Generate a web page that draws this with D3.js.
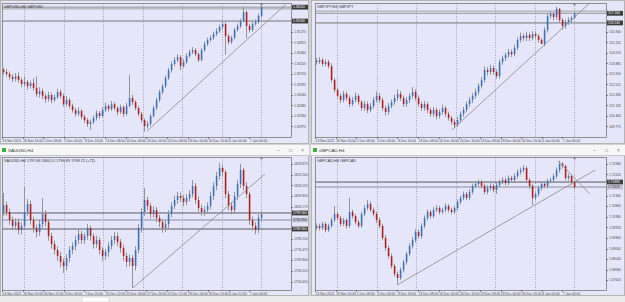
<!DOCTYPE html>
<html>
<head>
<meta charset="utf-8">
<script src="https://cdn.jsdelivr.net/npm/d3@7"></script>
<style>
  body { margin: 0; background: #d4d4d4; }
  svg { display: block; font-family: "Liberation Sans", Arial, sans-serif; }
</style>
</head>
<body>
<div id="chart"></div>
<script>
// ---- GBPUSD H4 (top left) ----
const gbpusdOpen0 = 1.3390;
const gbpusdClose = [1.3382,1.3375,1.3365,1.3358,1.3368,1.3355,1.3341,1.3348,1.3334,1.3344,
  1.3328,1.3307,1.3317,1.3301,1.3290,1.3304,1.3287,1.3297,1.3314,1.3301,
  1.3273,1.3287,1.3267,1.3253,1.3240,1.3250,1.3230,1.3219,1.3206,1.3213,
  1.3226,1.3243,1.3233,1.3253,1.3267,1.3257,1.3273,1.3260,1.3246,1.3263,
  1.3240,1.3267,1.3294,1.3280,1.3260,1.3240,1.3219,1.3199,1.3206,1.3233,
  1.3260,1.3287,1.3314,1.3334,1.3361,1.3388,1.3409,1.3422,1.3432,1.3402,
  1.3415,1.3436,1.3449,1.3456,1.3442,1.3422,1.3456,1.3476,1.3490,1.3497,
  1.3510,1.3520,1.3534,1.3544,1.3503,1.3483,1.3497,1.3524,1.3537,1.3554,
  1.3584,1.3537,1.3524,1.3544,1.3551,1.3571,1.3601];
const gbpusdHigh = [1.3395,1.3392,1.3384,1.3374,1.3378,1.3380,1.3362,1.3365,1.3355,1.3352,
  1.3360,1.3366,1.3330,1.3325,1.3310,1.3315,1.3312,1.3306,1.3325,1.3322,
  1.3308,1.3300,1.3294,1.3275,1.3260,1.3262,1.3256,1.3238,1.3226,1.3222,
  1.3235,1.3252,1.3250,1.3262,1.3278,1.3274,1.3284,1.3280,1.3266,1.3272,
  1.3268,1.3278,1.3372,1.3305,1.3286,1.3266,1.3246,1.3225,1.3215,1.3240,
  1.3268,1.3295,1.3322,1.3342,1.3370,1.3396,1.3418,1.3432,1.3442,1.3438,
  1.3425,1.3445,1.3458,1.3466,1.3462,1.3448,1.3462,1.3485,1.3498,1.3506,
  1.3518,1.3530,1.3542,1.3552,1.3550,1.3510,1.3505,1.3532,1.3545,1.3562,
  1.3601,1.3590,1.3545,1.3552,1.3560,1.3580,1.3608];
const gbpusdLow = [1.3372,1.3366,1.3356,1.3348,1.3350,1.3345,1.3330,1.3333,1.3322,1.3326,
  1.3318,1.3298,1.3295,1.3290,1.3278,1.3282,1.3276,1.3280,1.3290,1.3292,
  1.3265,1.3266,1.3258,1.3244,1.3230,1.3232,1.3222,1.3210,1.3196,1.3186,
  1.3205,1.3218,1.3224,1.3228,1.3246,1.3248,1.3250,1.3252,1.3236,1.3240,
  1.3230,1.3234,1.3262,1.3270,1.3252,1.3232,1.3210,1.3180,1.3190,1.3200,
  1.3228,1.3254,1.3280,1.3306,1.3328,1.3355,1.3380,1.3402,1.3415,1.3388,
  1.3396,1.3410,1.3430,1.3442,1.3435,1.3415,1.3418,1.3450,1.3470,1.3484,
  1.3490,1.3503,1.3514,1.3528,1.3440,1.3474,1.3476,1.3492,1.3518,1.3530,
  1.3550,1.3496,1.3515,1.3518,1.3538,1.3545,1.3565];
const gbpusdTicks = [1.35880,1.35525,1.35170,1.34815,1.34460,1.34105,1.33750,1.33395,1.33040,1.32685,1.32330,1.31975];
const gbpusdLevels = [1.3601, 1.3595, 1.3554];
const gbpusdTrend = [[48, 1.3182], [94.3, 1.3611]];

// ---- GBPJPY H4 (top right) ----
const gbpjpyOpen0 = 154.05;
const gbpjpyClose = [153.98,154.11,153.85,153.98,153.72,152.81,152.16,151.77,151.50,151.90,
  151.64,151.24,151.50,151.77,151.37,150.98,151.24,150.85,151.11,151.50,
  151.77,151.50,150.98,150.72,151.11,151.37,151.64,151.90,151.64,151.24,
  151.50,151.77,152.03,151.64,151.24,150.98,151.24,150.85,150.59,150.85,
  150.46,150.72,150.98,150.59,150.33,150.07,149.87,150.20,150.59,150.85,
  151.24,151.50,151.77,152.03,152.42,152.81,153.46,153.33,153.59,153.33,
  153.07,153.98,154.24,154.44,154.63,154.50,154.90,155.42,155.68,155.55,
  155.74,155.55,155.81,155.68,155.42,155.16,156.07,156.98,157.11,156.92,
  157.44,156.72,156.33,156.59,156.72,156.85,157.15];
const gbpjpyHigh = [154.25,154.30,154.24,154.15,154.12,153.90,152.95,152.30,151.95,152.10,
  152.05,151.80,151.70,152.00,151.90,151.50,151.45,151.40,151.30,151.70,
  152.05,151.95,151.65,151.15,151.30,151.55,151.85,152.20,152.10,151.80,
  151.70,151.95,152.35,152.20,151.80,151.40,151.45,151.35,151.00,151.05,
  151.00,150.90,151.20,151.10,150.75,150.45,150.25,150.40,150.75,151.05,
  151.40,151.70,151.95,152.25,152.60,153.00,153.70,153.65,153.80,153.75,
  153.50,154.15,154.40,154.60,154.85,154.80,155.10,155.60,155.90,155.85,
  155.95,155.90,156.00,155.98,155.80,155.55,156.25,157.15,157.30,157.25,
  157.60,157.50,156.85,156.75,156.90,157.00,157.25];
const gbpjpyLow = [153.80,153.85,153.70,153.70,153.55,152.65,152.00,151.60,151.30,151.35,
  151.45,151.05,151.10,151.35,151.20,150.80,150.80,150.65,150.70,150.95,
  151.35,151.30,150.80,150.50,150.55,150.95,151.20,151.45,151.45,151.05,
  151.05,151.30,151.60,151.45,151.05,150.80,150.80,150.65,150.40,150.40,
  150.25,150.30,150.55,150.40,150.15,149.90,149.68,149.75,150.05,150.40,
  150.70,151.05,151.30,151.60,151.85,152.25,152.65,153.10,153.15,153.15,
  152.90,152.90,153.80,154.05,154.25,154.30,154.35,154.75,155.25,155.35,
  155.35,155.35,155.40,155.50,155.25,155.22,155.00,155.90,156.80,156.70,
  156.75,156.55,156.10,156.15,156.40,156.55,156.80];
const gbpjpyTicks = [156.625,155.940,155.255,154.570,153.885,153.200,152.515,151.830,151.145,150.460,149.775];
const gbpjpyLevels = [157.30, 157.16, 156.53];
const gbpjpyTrend = [[45.3, 149.55], [91.3, 157.83]];

// ---- XAUUSD H4 (bottom left) ----
const xauusdOpen0 = 1800.0;
const xauusdClose = [1804.3,1799.9,1794.9,1791.2,1793.7,1788.7,1791.2,1799.9,1804.9,1794.9,
  1789.9,1787.4,1792.4,1798.7,1793.7,1784.9,1779.9,1776.2,1772.5,1768.7,
  1766.2,1771.2,1776.2,1778.7,1782.4,1786.2,1782.4,1784.9,1789.9,1784.9,
  1779.9,1782.4,1776.2,1772.5,1774.9,1778.7,1782.4,1784.9,1781.2,1777.4,
  1772.5,1768.7,1771.2,1766.2,1776.2,1789.9,1799.9,1807.4,1803.7,1798.7,
  1801.2,1796.2,1793.7,1789.9,1792.4,1798.7,1803.7,1807.4,1809.9,1808.6,
  1806.1,1808.6,1811.1,1816.1,1807.4,1802.4,1799.9,1801.2,1803.7,1809.9,
  1816.1,1822.4,1827.4,1824.9,1811.1,1803.7,1801.2,1809.9,1817.4,1826.1,
  1816.1,1811.1,1794.9,1791.2,1788.7,1796.2,1798.7];
const xauusdHigh = [1811.8,1806.5,1802.0,1797.0,1796.0,1796.0,1793.5,1815.5,1808.0,1807.0,
  1797.0,1792.0,1795.0,1808.6,1801.0,1795.5,1787.0,1782.0,1778.5,1775.0,
  1771.0,1773.5,1778.5,1781.0,1785.0,1789.0,1788.0,1787.0,1792.5,1791.5,
  1786.5,1785.0,1784.0,1778.0,1777.0,1781.0,1785.0,1787.5,1787.0,1783.0,
  1779.5,1774.5,1773.5,1773.0,1778.5,1792.5,1802.5,1814.9,1809.5,1805.5,
  1803.5,1803.0,1798.0,1795.5,1795.0,1801.0,1806.0,1810.0,1812.5,1812.0,
  1810.5,1811.0,1813.5,1819.9,1818.0,1809.5,1804.5,1803.5,1806.0,1812.5,
  1818.5,1825.0,1830.5,1829.5,1826.0,1813.0,1806.0,1812.5,1820.0,1829.9,
  1827.5,1818.5,1812.5,1797.0,1793.5,1798.5,1800.5];
const xauusdLow = [1797.5,1797.5,1792.0,1788.5,1789.0,1786.0,1786.0,1789.0,1797.5,1792.0,
  1787.0,1784.0,1785.0,1790.0,1791.0,1782.0,1777.0,1773.5,1769.5,1765.5,
  1761.9,1763.5,1768.5,1773.5,1776.0,1780.0,1780.0,1780.0,1782.5,1782.0,
  1777.0,1777.5,1773.5,1769.5,1770.0,1772.0,1776.5,1780.0,1778.5,1774.5,
  1769.5,1765.5,1766.0,1752.5,1763.5,1774.0,1787.0,1797.5,1801.0,1796.0,
  1796.5,1793.5,1790.5,1787.0,1787.5,1790.0,1796.5,1801.5,1805.0,1806.0,
  1803.5,1804.0,1806.5,1809.0,1805.0,1800.0,1797.5,1797.5,1799.0,1801.5,
  1807.5,1813.5,1820.0,1822.0,1808.5,1801.0,1798.5,1799.0,1807.5,1815.0,
  1813.5,1808.5,1792.0,1788.5,1786.0,1786.5,1794.0];
const xauusdTicks = [1829.875,1823.200,1816.525,1809.850,1803.175,1796.500,1789.825,1783.150,1776.475,1769.800,1763.125,1756.450];
const xauusdLevels = [1799.3, 1794.9, 1789.3];
const xauusdTrend = [[43.3, 1752.5], [87.3, 1823.6]];

// ---- GBPCAD H4 (bottom right) ----
const gbpcadOpen0 = 1.6990;
const gbpcadClose = [1.6998,1.6989,1.7007,1.6980,1.6998,1.7024,1.7050,1.7033,1.7007,1.7024,
  1.6998,1.7059,1.7041,1.7015,1.6998,1.7050,1.7076,1.7094,1.7068,1.7050,
  1.7024,1.6998,1.6946,1.6902,1.6867,1.6824,1.6789,1.6772,1.6807,1.6841,
  1.6876,1.6911,1.6937,1.6972,1.6954,1.6998,1.7033,1.7059,1.7041,1.7068,
  1.7076,1.7059,1.7068,1.7085,1.7068,1.7059,1.7076,1.7102,1.7120,1.7137,
  1.7120,1.7146,1.7172,1.7181,1.7189,1.7172,1.7146,1.7163,1.7172,1.7155,
  1.7176,1.7189,1.7198,1.7185,1.7207,1.7198,1.7215,1.7233,1.7241,1.7250,
  1.7198,1.7172,1.7120,1.7137,1.7163,1.7181,1.7172,1.7194,1.7198,1.7215,
  1.7241,1.7268,1.7259,1.7207,1.7215,1.7189,1.7167];
const gbpcadHigh = [1.7010,1.7008,1.7016,1.7014,1.7008,1.7034,1.7085,1.7060,1.7042,1.7034,
  1.7032,1.7120,1.7070,1.7050,1.7024,1.7060,1.7088,1.7111,1.7104,1.7078,
  1.7060,1.7034,1.7008,1.6958,1.6912,1.6878,1.6834,1.6800,1.6818,1.6852,
  1.6886,1.6922,1.6950,1.6984,1.6982,1.7010,1.7044,1.7070,1.7068,1.7080,
  1.7088,1.7086,1.7078,1.7096,1.7094,1.7078,1.7086,1.7114,1.7130,1.7148,
  1.7146,1.7158,1.7182,1.7192,1.7200,1.7198,1.7182,1.7175,1.7184,1.7182,
  1.7186,1.7200,1.7210,1.7208,1.7218,1.7216,1.7226,1.7244,1.7252,1.7263,
  1.7258,1.7206,1.7180,1.7148,1.7172,1.7190,1.7190,1.7204,1.7208,1.7226,
  1.7252,1.7281,1.7276,1.7266,1.7226,1.7222,1.7196];
const gbpcadLow = [1.6980,1.6978,1.6980,1.6970,1.6972,1.6990,1.7015,1.7022,1.6996,1.6998,
  1.6986,1.6990,1.7030,1.7004,1.6988,1.6990,1.7040,1.7066,1.7058,1.7040,
  1.7012,1.6988,1.6936,1.6890,1.6856,1.6812,1.6778,1.6746,1.6762,1.6796,
  1.6830,1.6866,1.6900,1.6926,1.6944,1.6944,1.6988,1.7022,1.7030,1.7032,
  1.7058,1.7048,1.7050,1.7058,1.7056,1.7048,1.7050,1.7066,1.7092,1.7110,
  1.7110,1.7110,1.7136,1.7162,1.7170,1.7162,1.7136,1.7136,1.7152,1.7144,
  1.7137,1.7166,1.7180,1.7174,1.7175,1.7188,1.7188,1.7205,1.7222,1.7230,
  1.7188,1.7160,1.7089,1.7110,1.7126,1.7152,1.7162,1.7162,1.7184,1.7188,
  1.7205,1.7230,1.7248,1.7196,1.7196,1.7178,1.7158];
const gbpcadTicks = [1.72680,1.72220,1.71760,1.71300,1.70840,1.70380,1.69920,1.69460,1.69000,1.68540,1.68080,1.67620];
const gbpcadLevels = [1.7189, 1.7167];
const gbpcadTrendUp = [[27, 1.6741], [93, 1.7241]];
const gbpcadTrendDown = [[80.7, 1.7281], [91.3, 1.7137]];

// time axis labels (every 16 H4 bars) and chart grid
const fxTimeLabels = ["24 Nov 2021","26 Nov 16:00","1 Dec 08:00","6 Dec 00:00","8 Dec 16:00","13 Dec 08:00",
  "16 Dec 00:00","20 Dec 16:00","23 Dec 08:00","28 Dec 00:00","30 Dec 16:00","4 Jan 00:00","7 Jan 00:00"];
const goldTimeLabels = ["24 Nov 2021","26 Nov 16:00","30 Nov 12:00","3 Dec 04:00","7 Dec 20:00","10 Dec 12:00",
  "15 Dec 04:00","17 Dec 20:00","22 Dec 12:00","28 Dec 04:00","30 Dec 20:00","4 Jan 12:00","7 Jan 04:00"];
const gridBars = [7, 20.2, 33.4, 46.6, 59.8, 73, 86];
const barsPerLabel = 6.87;

const W = 625, H = 302;
const BG = "#e6e6fa", FG = "#4a4a4a", UP = "#3a72b8", DOWN = "#b0201e", WICK = "#939393";

const panels = [
  { name: "GBPUSD,H4  GBPUSD", win: null, open0: gbpusdOpen0, close: gbpusdClose, high: gbpusdHigh, low: gbpusdLow,
    ticks: gbpusdTicks, levels: gbpusdLevels, levelStyle: ["#8a8a8a", "#9a9a9a", "#6a6a6a"], boxIdx: [0, 2],
    trends: [gbpusdTrend], times: fxTimeLabels, fmt: ".5f", domain: [1.3162, 1.3615],
    frame: { x: 0, y: 0, w: 309, h: 144 }, plot: { x: 2, y: 3, w: 289, h: 134 } },
  { name: "GBPJPY,H4  GBPJPY", win: null, open0: gbpjpyOpen0, close: gbpjpyClose, high: gbpjpyHigh, low: gbpjpyLow,
    ticks: gbpjpyTicks, levels: gbpjpyLevels, levelStyle: ["#9a9a9a", "#8a8a8a", "#6a6a6a"], boxIdx: [1, 2],
    trends: [gbpjpyTrend], times: fxTimeLabels, fmt: ".3f", domain: [149.09, 157.83],
    frame: { x: 311, y: 0, w: 314, h: 144 }, plot: { x: 315, y: 3, w: 291, h: 134 } },
  { name: "XAUUSD,H4  1797.66 1800.51 1796.89 1798.72  (+72)", win: "XAUUSD,H4", open0: xauusdOpen0, close: xauusdClose, high: xauusdHigh, low: xauusdLow,
    ticks: xauusdTicks, levels: xauusdLevels, levelStyle: ["#4a4a4a", "#b9b9cc", "#4a4a4a"], boxIdx: [0, 1, 2],
    trends: [xauusdTrend], times: goldTimeLabels, fmt: ".3f", domain: [1751.24, 1834.23],
    frame: { x: 0, y: 145, w: 309, h: 151 }, plot: { x: 2, y: 157, w: 289, h: 133 } },
  { name: "GBPCAD,H4  GBPCAD", win: "GBPCAD,H4", open0: gbpcadOpen0, close: gbpcadClose, high: gbpcadHigh, low: gbpcadLow,
    ticks: gbpcadTicks, levels: gbpcadLevels, levelStyle: ["#4a4a4a", "#b9b9cc"], boxIdx: [0, 1],
    trends: [gbpcadTrendUp, gbpcadTrendDown], times: fxTimeLabels, fmt: ".5f", domain: [1.67195, 1.7298],
    frame: { x: 311, y: 145, w: 314, h: 151 }, plot: { x: 315, y: 157, w: 291, h: 133 } }
];

const svg = d3.select("#chart").append("svg").attr("width", W).attr("height", H);
svg.append("rect").attr("width", W).attr("height", H).attr("fill", "#d2d2d2");

// bottom tab strip
svg.append("rect").attr("x", 0).attr("y", 296).attr("width", W).attr("height", 6).attr("fill", "#ececec");
svg.append("rect").attr("x", 82).attr("y", 297).attr("width", 27).attr("height", 5).attr("fill", "#ffffff").attr("stroke", "#c0c0c0").attr("stroke-width", 0.5);

panels.forEach((p, pi) => {
  const g = svg.append("g");
  const f = p.frame, pl = p.plot;

  g.append("rect").attr("x", f.x + 0.5).attr("y", f.y + 0.5).attr("width", f.w - 1).attr("height", f.h - 1)
    .attr("fill", BG).attr("stroke", "#b4b4b4");

  // window title bar for the lower windows
  if (p.win) {
    g.append("rect").attr("x", f.x).attr("y", f.y).attr("width", f.w).attr("height", 10).attr("fill", "#f6f6f6");
    g.append("line").attr("x1", f.x).attr("x2", f.x + f.w).attr("y1", f.y + 10.5).attr("y2", f.y + 10.5).attr("stroke", "#c8c8c8");
    g.append("rect").attr("x", f.x + 2).attr("y", f.y + 3).attr("width", 4).attr("height", 4).attr("fill", "#3fae49");
    g.append("text").attr("x", f.x + 8).attr("y", f.y + 6.8).attr("font-size", 4.4).attr("fill", "#333").text(p.win);
    ["\u2013", "\u25a1", "\u00d7"].forEach((s, k) => {
      g.append("text").attr("x", f.x + f.w - 32 + k * 12).attr("y", f.y + 7).attr("font-size", 5)
        .attr("fill", "#777").text(s);
    });
  }

  const x = d3.scaleLinear().domain([0, 96]).range([pl.x + 1, pl.x + 1 + 288]);
  const y = d3.scaleLinear().domain(p.domain).range([pl.y + pl.h, pl.y]);
  const right = pl.x + pl.w;

  const clipId = "clip" + pi;
  svg.append("clipPath").attr("id", clipId).append("rect")
    .attr("x", pl.x).attr("y", pl.y).attr("width", pl.w).attr("height", pl.h);

  // vertical dotted grid
  g.append("g").selectAll("line").data(gridBars).join("line")
    .attr("x1", d => Math.round(x(d)) + 0.5).attr("x2", d => Math.round(x(d)) + 0.5)
    .attr("y1", pl.y).attr("y2", pl.y + pl.h)
    .attr("stroke", "#8c8c9c").attr("stroke-width", 0.8).attr("stroke-dasharray", "1,1.6");

  // horizontal levels
  g.append("g").attr("clip-path", `url(#${clipId})`).selectAll("line").data(p.levels).join("line")
    .attr("x1", pl.x).attr("x2", right)
    .attr("y1", d => y(d)).attr("y2", d => y(d))
    .attr("stroke", (d, i) => p.levelStyle[i])
    .attr("stroke-width", (d, i) => p.levelStyle[i] === "#b9b9cc" ? 2 : 0.9);

  // candles
  const bars = d3.range(p.close.length).map(i => {
    const o = i ? p.close[i - 1] : p.open0, c = p.close[i];
    return { i, o, c, h: Math.max(p.high[i], o, c), l: Math.min(p.low[i], o, c) };
  });
  const cg = g.append("g").attr("clip-path", `url(#${clipId})`);
  cg.selectAll("line").data(bars).join("line")
    .attr("x1", d => Math.round(x(d.i)) + 0.5).attr("x2", d => Math.round(x(d.i)) + 0.5)
    .attr("y1", d => y(d.h)).attr("y2", d => y(d.l))
    .attr("stroke", WICK).attr("stroke-width", 1);
  cg.selectAll("rect").data(bars).join("rect")
    .attr("x", d => Math.round(x(d.i)) - 0.2)
    .attr("width", 1.6)
    .attr("y", d => y(Math.max(d.o, d.c)))
    .attr("height", d => Math.max(0.8, Math.abs(y(d.o) - y(d.c))))
    .attr("fill", d => d.c >= d.o ? UP : DOWN);

  // trend lines
  const tl = d3.line().x(d => x(d[0])).y(d => y(d[1]));
  g.append("g").attr("clip-path", `url(#${clipId})`).selectAll("path").data(p.trends).join("path")
    .attr("d", tl).attr("fill", "none").attr("stroke", "#8a8a8a").attr("stroke-width", 0.8);

  // chart shift marker
  const sx = Math.round(x(p.close.length - 1)) + 0.5;
  g.append("path").attr("d", `M${sx - 1.8},${pl.y + 0.5}L${sx + 1.8},${pl.y + 0.5}L${sx},${pl.y + 2.8}Z`).attr("fill", "#777");

  // frame
  g.append("rect").attr("x", pl.x + 0.5).attr("y", pl.y + 0.5).attr("width", pl.w).attr("height", pl.h)
    .attr("fill", "none").attr("stroke", "#7a7a7a").attr("stroke-width", 0.8);

  // symbol text
  g.append("text").attr("x", pl.x + 2).attr("y", pl.y + 4.6).attr("font-size", 3.8).attr("fill", "#333").text(p.name);

  // price axis
  const fmt = d3.format(p.fmt);
  const boxVals = p.boxIdx.map(i => p.levels[i]);
  const ticks = p.ticks.filter(t => boxVals.every(b => Math.abs(y(t) - y(b)) > 4.5) && y(t) > pl.y + 2 && y(t) < pl.y + pl.h - 1);
  g.append("g").selectAll("line").data(ticks).join("line")
    .attr("x1", right).attr("x2", right + 2).attr("y1", d => Math.round(y(d)) + 0.5).attr("y2", d => Math.round(y(d)) + 0.5)
    .attr("stroke", FG).attr("stroke-width", 0.6);
  g.append("g").selectAll("text").data(ticks).join("text")
    .attr("x", right + 3).attr("y", d => y(d) + 1.2).attr("font-size", 3.3).attr("fill", FG).text(d => fmt(d));

  const bg = g.append("g").selectAll("g").data(p.boxIdx).join("g");
  bg.append("rect").attr("x", right + 1).attr("y", i => y(p.levels[i]) - 2.4).attr("width", 16).attr("height", 4.8)
    .attr("fill", i => p.levelStyle[i] === "#b9b9cc" ? "#c4c4d4" : "#3c3c3c");
  bg.append("text").attr("x", right + 2).attr("y", i => y(p.levels[i]) + 1.2).attr("font-size", 3.3)
    .attr("fill", i => p.levelStyle[i] === "#b9b9cc" ? "#333" : "#fff").text(i => fmt(p.levels[i]));

  // time axis
  const tx = k => x(k * barsPerLabel - 0.33);
  g.append("g").selectAll("line").data(p.times).join("line")
    .attr("x1", (d, k) => Math.round(tx(k)) + 0.5).attr("x2", (d, k) => Math.round(tx(k)) + 0.5)
    .attr("y1", pl.y + pl.h).attr("y2", pl.y + pl.h + 2).attr("stroke", FG).attr("stroke-width", 0.6);
  g.append("g").selectAll("text").data(p.times).join("text")
    .attr("x", (d, k) => tx(k) + 0.6).attr("y", pl.y + pl.h + 4.6).attr("font-size", 3.3).attr("fill", FG).text(d => d);
});
</script>
</body>
</html>
